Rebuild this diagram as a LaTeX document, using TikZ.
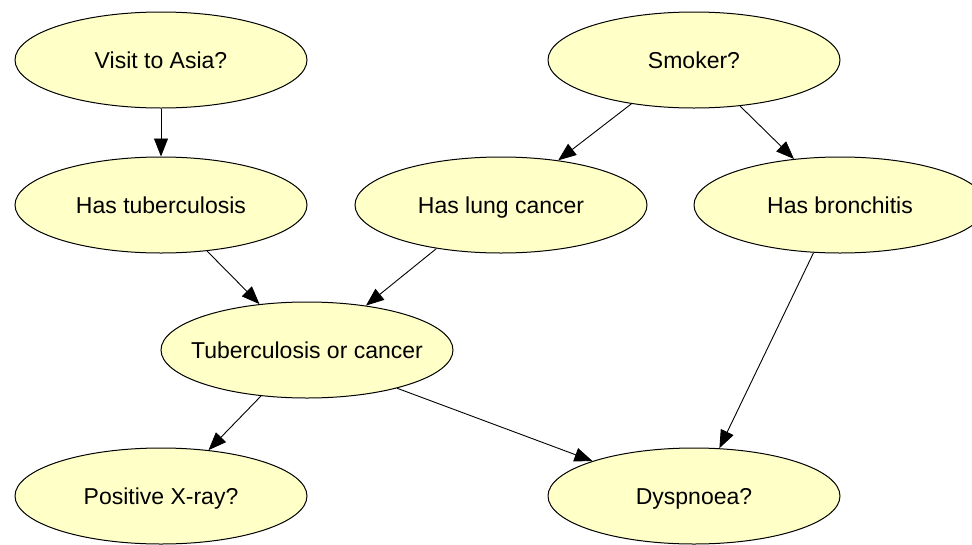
\documentclass[tikz,border=0pt]{standalone}
\usepackage{fontspec}
\setmainfont{Liberation Sans}
\usetikzlibrary{shapes.geometric,arrows.meta}
\definecolor{nodefill}{RGB}{255,255,200}
\begin{document}
\begin{tikzpicture}[x=1pt,y=-1pt,
  bnode/.style={ellipse,draw=black,line width=1pt,fill=nodefill,
    minimum width=292pt,minimum height=96pt,inner sep=0pt,
    text height=16.5pt,text depth=0pt,
    font=\fontsize{23}{28}\selectfont},
  link/.style={line width=0.9pt,-{Triangle[length=18pt,width=14pt]}}]
\clip (0,0) rectangle (972,544);
\node[bnode] (visit)  at (161,60)  {\makebox[0pt]{Visit to Asia?}};
\node[bnode] (smoker) at (694,60)  {\makebox[0pt]{Smoker?}};
\node[bnode] (ht)     at (161,205) {\makebox[0pt]{Has tuberculosis}};
\node[bnode] (hlc)    at (501,205) {\makebox[0pt]{Has lung cancer}};
\node[bnode] (hb)     at (840,205) {\makebox[0pt]{Has bronchitis}};
\node[bnode] (toc)    at (307,350) {\makebox[0pt]{Tuberculosis or cancer}};
\node[bnode] (px)     at (161,496) {\makebox[0pt]{Positive X-ray?}};
\node[bnode] (dys)    at (694,496) {\makebox[0pt]{Dyspnoea?}};
\draw[link] (visit.south) -- (ht.north);
\draw[link] (smoker.215) -- (hlc.38);
\draw[link] (smoker.315) -- (hb.135);
\draw[link] (ht.315) -- (toc.136);
\draw[link] (hlc.214) -- (toc.37);
\draw[link] (toc.225) -- (px.44);
\draw[link] (toc.337) -- (dys.161);
\draw[link] (hb.241) -- (dys.62);
\end{tikzpicture}
\end{document}
